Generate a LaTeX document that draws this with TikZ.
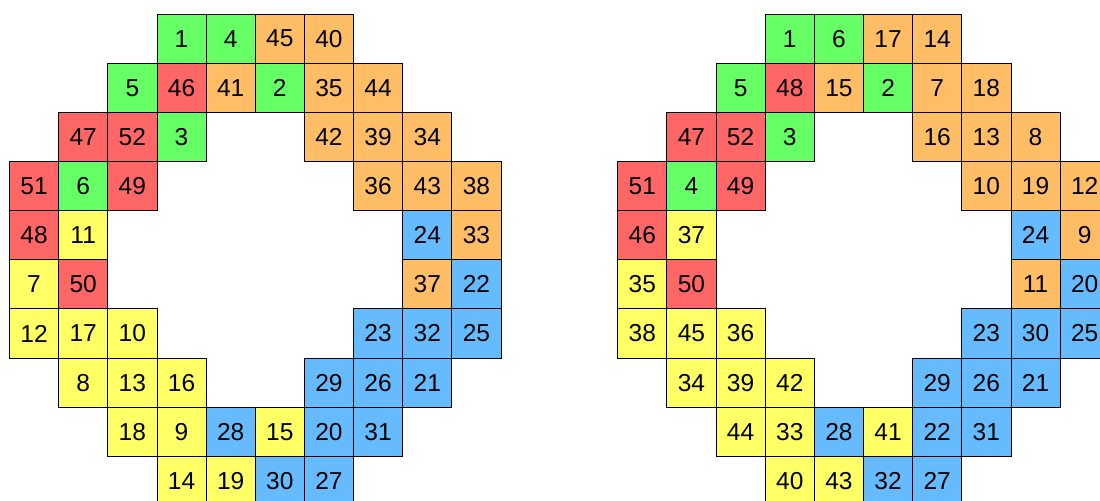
\documentclass[tikz,border=0pt]{standalone}
\usepackage{fontspec}
\setmainfont{Liberation Sans}
\usepackage{xcolor}
\usepackage{tikz}
\usetikzlibrary{
  positioning,
  calc
}
\definecolor{sqG}{HTML}{66FF66}
\definecolor{sqR}{HTML}{FF6666}
\definecolor{sqO}{HTML}{FFBE66}
\definecolor{sqY}{HTML}{FFFF66}
\definecolor{sqB}{HTML}{66BBFF}
\tikzset{
  sqcell/.style={
    draw=black, line width=0.5pt, minimum size=1cm, inner sep=0pt,
    font=\fontsize{14.2}{16}\selectfont, anchor=center
  },
  gcell/.style={sqcell, fill=sqG},
  rcell/.style={sqcell, fill=sqR},
  ocell/.style={sqcell, fill=sqO},
  ycell/.style={sqcell, fill=sqY},
  bcell/.style={sqcell, fill=sqB}
}

\begin{document}
\begin{tikzpicture}
  \useasboundingbox (-0.193,0.285) rectangle (22.187,-9.888);
  % left ring: row/column/number/colour
  \foreach \r/\c/\n/\k in {
    0/3/1/g, 0/4/4/g, 0/5/45/o, 0/6/40/o,
    1/2/5/g, 1/3/46/r, 1/4/41/o, 1/5/2/g, 1/6/35/o, 1/7/44/o,
    2/1/47/r, 2/2/52/r, 2/3/3/g, 2/6/42/o, 2/7/39/o, 2/8/34/o,
    3/0/51/r, 3/1/6/g, 3/2/49/r, 3/7/36/o, 3/8/43/o, 3/9/38/o,
    4/0/48/r, 4/1/11/y, 4/8/24/b, 4/9/33/o,
    5/0/7/y, 5/1/50/r, 5/8/37/o, 5/9/22/b,
    6/0/12/y, 6/1/17/y, 6/2/10/y, 6/7/23/b, 6/8/32/b, 6/9/25/b,
    7/1/8/y, 7/2/13/y, 7/3/16/y, 7/6/29/b, 7/7/26/b, 7/8/21/b,
    8/2/18/y, 8/3/9/y, 8/4/28/b, 8/5/15/y, 8/6/20/b, 8/7/31/b,
    9/3/14/y, 9/4/19/y, 9/5/30/b, 9/6/27/b}
    \node[\k cell] (a\n) at (\c+0.5,-\r-0.5) {\n};
  % right ring
  \foreach \r/\c/\n/\k in {
    0/3/1/g, 0/4/6/g, 0/5/17/o, 0/6/14/o,
    1/2/5/g, 1/3/48/r, 1/4/15/o, 1/5/2/g, 1/6/7/o, 1/7/18/o,
    2/1/47/r, 2/2/52/r, 2/3/3/g, 2/6/16/o, 2/7/13/o, 2/8/8/o,
    3/0/51/r, 3/1/4/g, 3/2/49/r, 3/7/10/o, 3/8/19/o, 3/9/12/o,
    4/0/46/r, 4/1/37/y, 4/8/24/b, 4/9/9/o,
    5/0/35/y, 5/1/50/r, 5/8/11/o, 5/9/20/b,
    6/0/38/y, 6/1/45/y, 6/2/36/y, 6/7/23/b, 6/8/30/b, 6/9/25/b,
    7/1/34/y, 7/2/39/y, 7/3/42/y, 7/6/29/b, 7/7/26/b, 7/8/21/b,
    8/2/44/y, 8/3/33/y, 8/4/28/b, 8/5/41/y, 8/6/22/b, 8/7/31/b,
    9/3/40/y, 9/4/43/y, 9/5/32/b, 9/6/27/b}
    \node[\k cell] (b\n) at (12.375+\c+0.5,-\r-0.5) {\n};
\end{tikzpicture}
\end{document}
